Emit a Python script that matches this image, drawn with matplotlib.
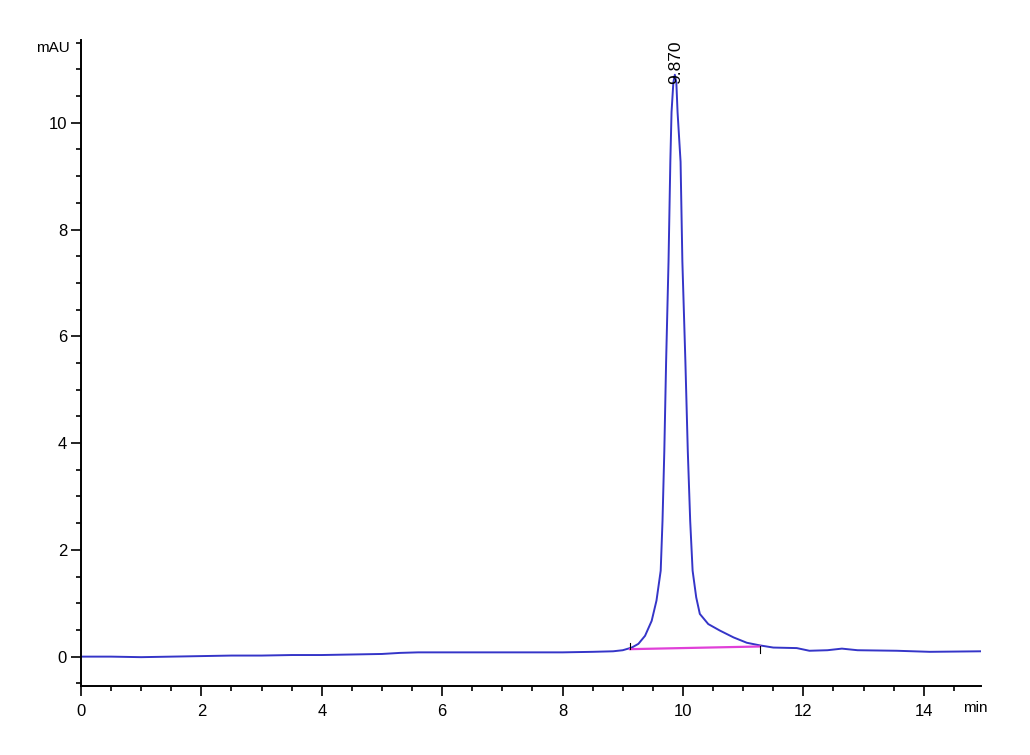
import matplotlib
matplotlib.use("Agg")
import matplotlib.pyplot as plt
from matplotlib.ticker import MultipleLocator

plt.rcParams['font.family'] = ['Liberation Sans Narrow', 'Liberation Sans', 'DejaVu Sans']

# chromatogram trace (min, mAU)
time_min = [0.0, 0.5, 1.0, 1.5, 2.0, 2.5, 3.0, 3.5, 4.0, 4.5, 5.0, 5.3, 5.6,
            6.0, 6.5, 7.0, 7.5, 8.0, 8.5, 8.84, 9.0, 9.15, 9.26, 9.37, 9.48,
            9.56, 9.63, 9.66, 9.69, 9.72, 9.76, 9.79, 9.81, 9.84, 9.865, 9.89,
            9.91, 9.96, 9.99, 10.04, 10.08, 10.12, 10.16, 10.22, 10.28, 10.42,
            10.61, 10.84, 11.06, 11.28, 11.5, 11.89, 12.1, 12.4, 12.64, 12.9,
            13.55, 14.1, 14.95]
signal = [0.00, 0.00, -0.01, 0.00, 0.01, 0.02, 0.02, 0.03, 0.03, 0.04, 0.05,
          0.07, 0.08, 0.08, 0.08, 0.08, 0.08, 0.08, 0.09, 0.10, 0.12, 0.17,
          0.24, 0.39, 0.67, 1.05, 1.61, 2.54, 3.85, 5.53, 7.40, 9.27, 10.20,
          10.75, 10.90, 10.75, 10.20, 9.27, 7.40, 5.53, 3.85, 2.54, 1.61,
          1.11, 0.80, 0.61, 0.49, 0.36, 0.26, 0.21, 0.17, 0.16, 0.11, 0.12,
          0.15, 0.12, 0.11, 0.09, 0.10]

# integration baseline of the peak
base_x = [9.12, 11.28]
base_y = [0.14, 0.19]

peak_rt = 9.870
peak_label = "9.870"

fig = plt.figure(figsize=(10.3, 7.55), dpi=100)
ax = fig.add_axes([0.0786, 0.0914, 0.8738, 0.8556])

ax.plot(time_min, signal, color='#3535c8', linewidth=1.4)
ax.plot(base_x, base_y, color='#e040d8', linewidth=1.6)

# small start/end marks of the integration
ax.plot([base_x[0], base_x[0]], [base_y[0], base_y[0] + 0.12], color='black', linewidth=0.8)
ax.plot([base_x[1], base_x[1]], [base_y[1], base_y[1] - 0.12], color='black', linewidth=0.8)

ax.text(peak_rt, 10.72, peak_label, rotation=90, ha='center', va='bottom', fontsize=12.5)

ax.set_xlim(0, 14.95)
ax.set_ylim(-0.55, 11.55)

for side in ('top', 'right'):
    ax.spines[side].set_visible(False)
ax.spines['left'].set_linewidth(1.4)
ax.spines['bottom'].set_linewidth(1.4)

ax.xaxis.set_major_locator(MultipleLocator(2))
ax.xaxis.set_minor_locator(MultipleLocator(0.5))
ax.yaxis.set_major_locator(MultipleLocator(2))
ax.yaxis.set_minor_locator(MultipleLocator(0.5))
ax.tick_params(which='major', length=7, width=1.2, labelsize=12)
ax.tick_params(axis='x', which='major', pad=6)
ax.tick_params(axis='y', which='major', pad=3)
ax.tick_params(which='minor', length=3.5, width=1.2)

fig.text(70 / 1030, 1 - 48 / 755, "mAU", ha='right', va='center', fontsize=11)
fig.text(963 / 1030, 1 - 708 / 755, "min", ha='left', va='center', fontsize=11)

fig.savefig("out.png", dpi=100)
